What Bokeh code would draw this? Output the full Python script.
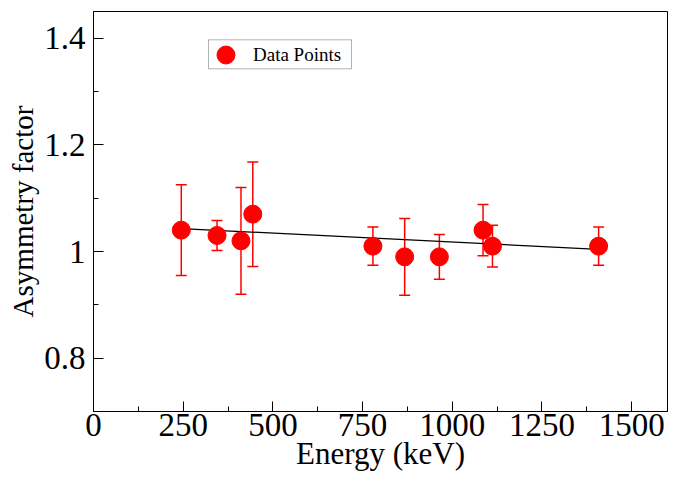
from bokeh.plotting import figure
from bokeh.models import (ColumnDataSource, Whisker, TeeHead, FixedTicker, Range1d,
                          Legend, LegendItem, BoxAnnotation, CustomJSTickFormatter)
from bokeh.embed import file_html
from bokeh.resources import INLINE

# Data
energy = [244.7, 344.3, 411.1, 444.0, 778.9, 867.4, 964.1, 1085.8, 1112.1, 1408.0]
asym = [1.04, 1.03, 1.02, 1.07, 1.01, 0.99, 0.99, 1.04, 1.01, 1.01]
err = [0.085, 0.028, 0.10, 0.098, 0.036, 0.072, 0.042, 0.048, 0.039, 0.036]

fit_x = [244.7, 1408.0]
fit_y = [1.043, 1.004]

x_major = [0, 250, 500, 750, 1000, 1250, 1500]
x_minor = [125, 375, 625, 875, 1125, 1375]
y_major = [0.8, 1.0, 1.2, 1.4]
y_minor = [0.9, 1.1, 1.3]

FONT = "Liberation Serif"

src = ColumnDataSource(dict(
    x=energy, y=asym,
    upper=[a + e for a, e in zip(asym, err)],
    lower=[a - e for a, e in zip(asym, err)],
))

p = figure(width=696, height=477, output_backend="svg", toolbar_location=None,
           x_range=Range1d(0, 1600), y_range=Range1d(0.7, 1.45),
           min_border_left=93, min_border_right=29, min_border_top=11, min_border_bottom=66)
p.background_fill_color = "white"
p.border_fill_color = "white"
p.outline_line_color = "black"
p.outline_line_width = 1
p.xgrid.visible = False
p.ygrid.visible = False

# error bars
wh = Whisker(source=src, base="x", upper="upper", lower="lower", dimension="height",
             line_color="red", line_width=1.5, level="underlay",
             upper_head=TeeHead(size=11, line_color="red", line_width=1.5),
             lower_head=TeeHead(size=11, line_color="red", line_width=1.5))
p.add_layout(wh)

p.line(fit_x, fit_y, line_color="black", line_width=1.2)
pts = p.scatter("x", "y", source=src, size=18, fill_color="red", line_color="red")

# axes
for ax in (p.xaxis[0], p.yaxis[0]):
    ax.major_tick_in = 10
    ax.major_tick_out = 0
    ax.minor_tick_in = 5
    ax.minor_tick_out = 0
    ax.axis_line_color = "black"
    ax.major_tick_line_color = "black"
    ax.minor_tick_line_color = "black"
    ax.major_label_text_font = FONT
    ax.major_label_text_color = "black"
    ax.axis_label_text_font = FONT
    ax.axis_label_text_font_style = "normal"
    ax.axis_label_text_color = "black"

p.xaxis.ticker = FixedTicker(ticks=x_major, minor_ticks=x_minor)
p.yaxis.ticker = FixedTicker(ticks=y_major, minor_ticks=y_minor)
p.yaxis.formatter = CustomJSTickFormatter(code="return String(Math.round(tick*10)/10);")

p.xaxis.axis_label = "Energy (keV)"
p.yaxis.axis_label = "Asymmetry factor"
p.xaxis.major_label_text_font_size = "33px"
p.yaxis.major_label_text_font_size = "33px"
p.xaxis.axis_label_text_font_size = "31px"
p.yaxis.axis_label_text_font_size = "29px"
p.xaxis.major_label_standoff = 2
p.yaxis.major_label_standoff = 8
p.xaxis.axis_label_standoff = -3
p.yaxis.axis_label_standoff = 2

# legend (frame drawn as a box, items on transparent legend)
legend_box = BoxAnnotation(left=115, right=258, top=371.7, bottom=342.7,
                           left_units="screen", right_units="screen",
                           top_units="screen", bottom_units="screen",
                           fill_color="white", fill_alpha=1.0,
                           line_color="black", line_width=1, level="annotation")
p.add_layout(legend_box)

legend = Legend(items=[LegendItem(label="Data Points", renderers=[pts])],
                location=(110, 334), glyph_width=45, glyph_height=45, padding=0,
                label_standoff=5, border_line_alpha=0, background_fill_alpha=0,
                label_text_font=FONT, label_text_font_size="19px",
                label_text_color="black", spacing=0)
p.add_layout(legend)

open("out.html", "w").write(file_html(p, INLINE))
